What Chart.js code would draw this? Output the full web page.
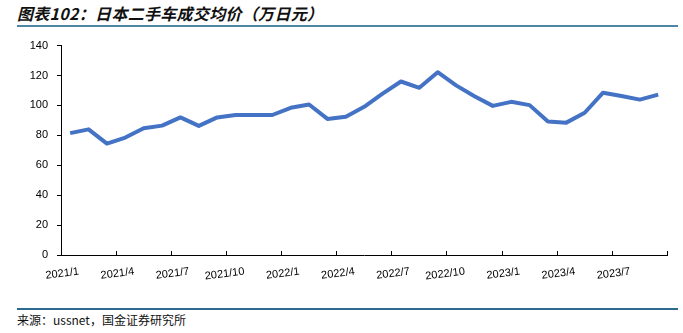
<!DOCTYPE html>
<html>
<head>
<meta charset="utf-8">
<script src="https://cdn.jsdelivr.net/npm/chart.js@4/dist/chart.umd.min.js"></script>
<style>
  html, body { margin: 0; padding: 0; background: #fff; }
  body { width: 683px; height: 333px; position: relative; overflow: hidden; }
  #title { position: absolute; left: 17px; top: 3px; font-family: "Noto Sans CJK SC", sans-serif; font-size: 16px; font-style: italic; font-weight: bold; color: #111; letter-spacing: 0.3px; white-space: nowrap; line-height: 20px; }
  #topline { position: absolute; left: 17px; top: 25px; width: 661px; height: 2px; background: #4f86a6; }
  #botline { position: absolute; left: 17px; top: 308px; width: 661px; height: 2px; background: #2c6a8f; }
  #source { position: absolute; left: 17px; top: 312px; font-family: "Noto Sans CJK SC", sans-serif; font-size: 12px; color: #111; white-space: nowrap; line-height: 16px; }
  #wrap { position: absolute; left: 0; top: 30px; width: 683px; height: 265px; }
</style>
</head>
<body>
<div id="title">图表102：日本二手车成交均价（万日元）</div>
<div id="topline"></div>
<div id="wrap"><canvas id="c" width="683" height="265"></canvas></div>
<div id="botline"></div>
<div id="source">来源：ussnet，国金证券研究所</div>
<script>
// Months 2021/1 .. 2023/9
const categories = [
  '2021/1','2021/2','2021/3','2021/4','2021/5','2021/6','2021/7','2021/8','2021/9','2021/10','2021/11','2021/12',
  '2022/1','2022/2','2022/3','2022/4','2022/5','2022/6','2022/7','2022/8','2022/9','2022/10','2022/11','2022/12',
  '2023/1','2023/2','2023/3','2023/4','2023/5','2023/6','2023/7','2023/8','2023/9'
];
const avgPrice = [
  81.5, 84, 74.5, 78.5, 84.7, 86.5, 92, 86.3, 92, 93.6, 93.6, 93.6,
  98.4, 100.6, 91, 92.5, 99.1, 107.9, 116, 111.8, 122.2, 113.4, 106.1, 99.7,
  102.4, 100.2, 89.2, 88.5, 95.1, 108.5, 106.3, 103.9, 107.2
];
const xTickLabels = ['2021/1','2021/4','2021/7','2021/10','2022/1','2022/4','2022/7','2022/10','2023/1','2023/4','2023/7',''];
const yTicks = [0, 20, 40, 60, 80, 100, 120, 140];

const points = avgPrice.map((v, i) => ({ x: i, y: v }));

new Chart(document.getElementById('c'), {
  type: 'line',
  data: {
    datasets: [{
      label: '日本二手车成交均价',
      data: points,
      borderColor: '#4472C4',
      backgroundColor: '#4472C4',
      borderWidth: 4,
      pointRadius: 0,
      tension: 0,
      borderJoinStyle: 'round',
      borderCapStyle: 'butt'
    }]
  },
  options: {
    responsive: false,
    animation: false,
    devicePixelRatio: 1,
    layout: { padding: { top: 13, right: 9, left: 0, bottom: 0 } },
    plugins: { legend: { display: false }, tooltip: { enabled: false } },
    scales: {
      x: {
        type: 'linear',
        min: -0.5,
        max: categories.length - 0.5,
        afterBuildTicks: (scale) => {
          scale.ticks = xTickLabels.map((l, i) => ({ value: i * 3 - 0.5 }));
        },
        afterFit: (scale) => { scale.height = 40; },
        grid: { display: true, drawOnChartArea: false, drawTicks: true, tickLength: -4, color: '#000', lineWidth: 1 },
        border: { display: true, color: '#000', width: 1 },
        ticks: {
          autoSkip: false,
          minRotation: 7,
          maxRotation: 7,
          labelOffset: 18,
          padding: 14,
          color: '#000',
          font: { family: '"Liberation Sans", Arial, sans-serif', size: 11 },
          callback: (v, i) => xTickLabels[i] || ''
        }
      },
      y: {
        min: 0,
        max: 140,
        afterBuildTicks: (scale) => { scale.ticks = yTicks.map(v => ({ value: v })); },
        afterFit: (scale) => { scale.width = 61; },
        grid: { display: true, drawOnChartArea: false, drawTicks: true, tickLength: 4, color: '#000', lineWidth: 1 },
        border: { display: true, color: '#000', width: 1 },
        ticks: {
          padding: 9,
          color: '#000',
          font: { family: '"Liberation Sans", Arial, sans-serif', size: 11 }
        }
      }
    }
  }
});
</script>
</body>
</html>
